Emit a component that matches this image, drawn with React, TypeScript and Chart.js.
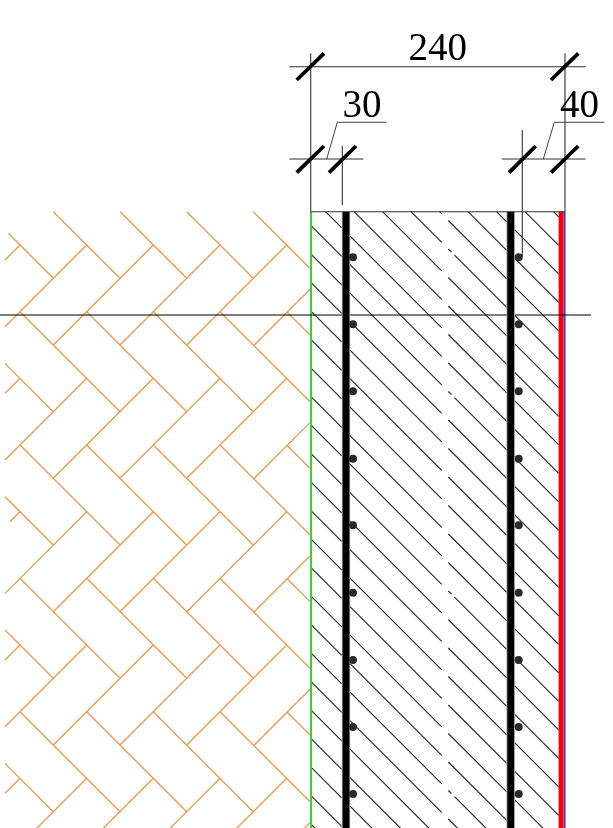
import React, { useEffect, useRef } from "react";
import { Chart, registerables } from "chart.js";

Chart.register(...registerables);

type Pt = { x: number; y: number };
type Seg = number[];

const WIDTH = 613;
const HEIGHT = 828;
const WALL_TOP = 211.7;

// Concrete hatch: each line is y = x + c
const hatchIntercepts = [
  -341.8, -313.3, -284.8, -256.3, -227.8, -199.3, -170.8, -142.3, -113.8, -85.3, -56.8,
  -28.3, 0.2, 28.7, 57.2, 85.7, 114.2, 142.7, 171.2, 199.7, 228.2, 256.7, 285.2, 313.7,
  342.2, 370.7, 399.2, 427.7, 456.2, 484.7, 513.2,
];
const hatchSpans = [
  [311.5, 341.7],
  [350, 441.7],
  [448.3, 506.7],
  [515, 558.7],
];
const notchedIntercepts = [-199.3, -56.8, 142.7, 342.2];
const notchedSpans = [
  [448.3, 451.5],
  [454.5, 506.7],
];

// Insulation herringbone
const forwardTops = [245, 378.3, 511.7, 645, 778.3];
const forwardStarts = [
  [20, 5],
  [86.7, 5],
  [153.3, 53.3],
  [220, 120],
  [286.7, 186.7],
  [310, 253.3],
];
const shortStubTop = 511.7;
const shortStubEnd = 10;
const backwardTops = [178.3, 311.7, 445, 578.3, 711.7];
const backwardSpans = [
  [5, 53.3],
  [20, 120],
  [86.7, 186.7],
  [153.3, 253.3],
  [220, 310],
  [286.7, 310],
];
const firstStubTop = 178.3;
const firstStubStart = 8.3;

// Drawing lines
const dimLines: Seg[] = [
  [289.3, 66.7, 585.7, 66.7],
  [289.3, 159, 363.3, 159],
  [501.7, 159, 585.7, 159],
  [310.7, 53.3, 310.7, 211.7],
  [565, 53.3, 565, 211.7],
  [342.3, 146, 342.3, 205],
  [522.3, 130, 522.3, 256],
  [522.3, 256, 518.7, 257.3],
  [310.7, WALL_TOP, 565, WALL_TOP],
];
const leaderLines: Seg[] = [
  [326.7, 159, 337.3, 122.3, 386.7, 122.3],
  [543.3, 159, 554.3, 122.3, 604.3, 122.3],
];
const tickMarks: Seg[] = [
  [296.7, 80, 324, 53.3],
  [551, 80, 578.3, 53.3],
  [296.7, 172.7, 324, 146],
  [329, 172.7, 356, 146],
  [509, 172.7, 535.7, 146],
  [551, 172.7, 578.3, 146],
];
const levelLine: Seg[] = [[0, 315, 591, 315]];
const rebarBars: Seg[] = [
  [346, WALL_TOP, 346, HEIGHT],
  [510.7, WALL_TOP, 510.7, HEIGHT],
];
const greenLine: Seg[] = [[311, WALL_TOP, 311, HEIGHT]];
const redLine: Seg[] = [[561, WALL_TOP, 561, HEIGHT]];
const blueLine: Seg[] = [[564.5, WALL_TOP, 564.5, HEIGHT]];

const rebarYs = [257.3, 324.3, 391.3, 458.7, 525.3, 592.7, 660, 727, 794];
const rebarXs = [353, 518.7];

const dimLabels = ["240", "30", "40"];
const dimLabelXs = [437.7, 362, 579.5];
const dimLabelYs = [60, 116.7, 116.7];

function polyline(segs: Seg[]): Pt[] {
  const out: Pt[] = [];
  for (const s of segs) {
    for (let i = 0; i < s.length; i += 2) out.push({ x: s[i], y: s[i + 1] });
    out.push({ x: NaN, y: NaN });
  }
  return out;
}

function hatchSegs(): Seg[] {
  const out: Seg[] = [];
  for (const c of hatchIntercepts) {
    const notched = notchedIntercepts.includes(c);
    const spans = notched ? [hatchSpans[0], hatchSpans[1], ...notchedSpans, hatchSpans[3]] : hatchSpans;
    for (const [a, b] of spans) {
      const x0 = Math.max(a, WALL_TOP - c);
      if (x0 < b) out.push([x0, x0 + c, b, b + c]);
    }
  }
  return out;
}

function clipTop(x0: number, y0: number, x1: number, y1: number): Seg | null {
  if (y1 <= WALL_TOP) return null;
  if (y0 >= WALL_TOP) return [x0, y0, x1, y1];
  const t = (WALL_TOP - y0) / (y1 - y0);
  return [x0 + t * (x1 - x0), WALL_TOP, x1, y1];
}

function brickSegs(): Seg[] {
  const out: Seg[] = [];
  for (const top of forwardTops) {
    for (const [a, b0] of forwardStarts) {
      const b = a === 20 && top === shortStubTop ? shortStubEnd : b0;
      // a right-hand truncated stroke starts on the wall face, 44.3 below the crown
      const y0 = a === 310 ? top + 44.3 : top;
      out.push([a, y0, b, y0 + (a - b)]);
    }
  }
  for (const top of backwardTops) {
    for (const [a0, b] of backwardSpans) {
      const a = a0 === 5 && top === firstStubTop ? firstStubStart : a0;
      // the first column is the stub ending 100 below the row line
      const y1 = a0 === 5 ? top + 100 : top + (b - a);
      const y0 = y1 - (b - a);
      const seg = clipTop(a, y0, b, y1);
      if (seg) out.push(seg);
    }
  }
  return out;
}

function lineSet(label: string, segs: Seg[], color: string, width: number) {
  return {
    label,
    data: polyline(segs),
    showLine: true,
    borderColor: color,
    backgroundColor: color,
    borderWidth: width,
    pointRadius: 0,
    spanGaps: false,
    tension: 0,
  };
}

export default function App() {
  const ref = useRef<HTMLCanvasElement | null>(null);

  useEffect(() => {
    if (!ref.current) return;
    const dots: Pt[] = [];
    for (const x of rebarXs) for (const y of rebarYs) dots.push({ x, y });

    const textPlugin = {
      id: "dimText",
      afterDatasetsDraw(chart: any) {
        const { ctx, scales } = chart;
        ctx.save();
        ctx.font = '39px "Liberation Serif"';
        ctx.fillStyle = "#000000";
        ctx.textAlign = "center";
        ctx.textBaseline = "alphabetic";
        dimLabels.forEach((t, i) => {
          ctx.fillText(t, scales.x.getPixelForValue(dimLabelXs[i]), scales.y.getPixelForValue(dimLabelYs[i]));
        });
        ctx.restore();
      },
    };

    const chart = new Chart(ref.current, {
      type: "scatter",
      data: {
        datasets: [
          {
            label: "rebar",
            data: dots,
            showLine: false,
            pointRadius: 4,
            pointBorderWidth: 0,
            pointBackgroundColor: "#2a2a2a",
          },
          lineSet("ticks", tickMarks, "#000000", 3.8),
          lineSet("dimension", dimLines, "#333333", 1.1),
          lineSet("leader", leaderLines, "#444444", 1),
          lineSet("bars", rebarBars, "#000000", 6.6),
          lineSet("bar edge", rebarBars, "#999999", 8.4),
          lineSet("level", levelLine, "#000000", 1.1),
          lineSet("green", greenLine, "#3ad03a", 2),
          lineSet("red", redLine, "#ff0000", 4.8),
          lineSet("blue", blueLine, "#3a3ae8", 2.2),
          lineSet("hatch", hatchSegs(), "#2a2a2a", 1.2),
          lineSet("bricks", brickSegs(), "#e89a4a", 1.3),
        ] as any,
      },
      options: {
        animation: false,
        responsive: false,
        maintainAspectRatio: false,
        layout: { padding: 0, autoPadding: false },
        events: [],
        plugins: { legend: { display: false }, tooltip: { enabled: false }, title: { display: false } },
        scales: {
          x: { type: "linear", display: false, min: 0, max: WIDTH },
          y: { type: "linear", display: false, min: 0, max: HEIGHT, reverse: true },
        },
      },
      plugins: [textPlugin],
    });
    return () => chart.destroy();
  }, []);

  return (
    <canvas
      ref={ref}
      width={WIDTH}
      height={HEIGHT}
      style={{ position: "fixed", left: 0, top: 0, display: "block", background: "#ffffff" }}
    />
  );
}
